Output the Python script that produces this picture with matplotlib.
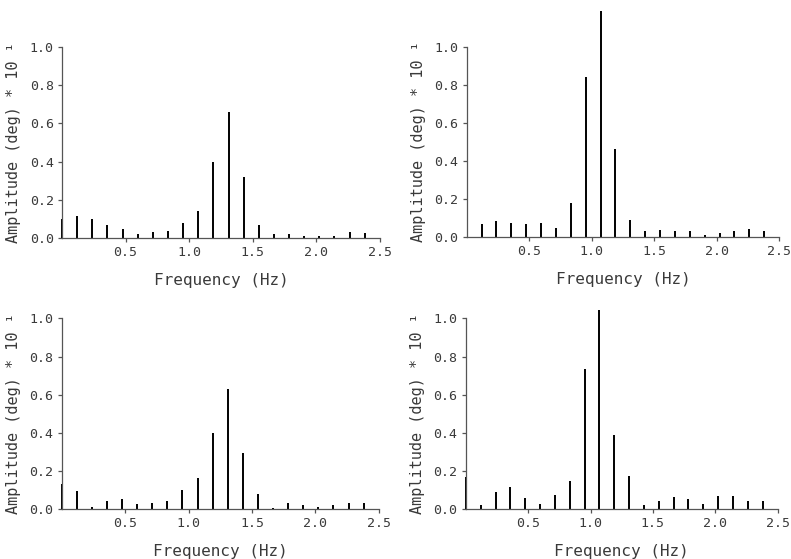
import numpy as np
import matplotlib
matplotlib.use("Agg")
import matplotlib.pyplot as plt

# harmonic index spacing (Hz) read from the spike positions
df = 0.119
k = np.arange(21)
freq = k * df

# amplitudes (deg * 10^1)
amp_tl = [0.10, 0.117, 0.10, 0.07, 0.047, 0.02, 0.03, 0.038, 0.078, 0.144, 0.397,
          0.66, 0.32, 0.07, 0.02, 0.02, 0.01, 0.01, 0.012, 0.03, 0.025]
amp_tr = [0.0, 0.065, 0.082, 0.07, 0.065, 0.07, 0.044, 0.175, 0.842, 1.19, 0.46,
          0.088, 0.03, 0.035, 0.03, 0.03, 0.01, 0.02, 0.03, 0.038, 0.03]
amp_bl = [0.13, 0.096, 0.012, 0.042, 0.054, 0.028, 0.033, 0.044, 0.098, 0.164, 0.397,
          0.63, 0.292, 0.077, 0.005, 0.03, 0.021, 0.012, 0.021, 0.03, 0.03]
amp_br = [0.17, 0.021, 0.087, 0.117, 0.06, 0.025, 0.073, 0.145, 0.733, 1.044, 0.388,
          0.173, 0.021, 0.04, 0.065, 0.054, 0.028, 0.068, 0.068, 0.042, 0.042]

xticks = [0.5, 1.0, 1.5, 2.0, 2.5]
yticks = [0.0, 0.2, 0.4, 0.6, 0.8, 1.0]

plt.rcParams['font.family'] = ['DejaVu Sans Mono']
grey = '#3a3a3a'

fig = plt.figure(figsize=(7.91, 5.59), dpi=100)

# axes boxes in figure fractions [left, bottom, width, height]
boxes = [[0.0784, 0.5742, 0.402, 0.3417],
         [0.590, 0.5766, 0.395, 0.340],
         [0.078, 0.0894, 0.401, 0.341],
         [0.589, 0.0894, 0.394, 0.341]]
series = [amp_tl, amp_tr, amp_bl, amp_br]

for box, amp in zip(boxes, series):
    ax = fig.add_axes(box)
    ax.vlines(freq, 0, amp, colors='black', linewidth=1.4, clip_on=False)
    ax.set_xlim(0, 2.5)
    ax.set_ylim(0, 1.0)
    ax.set_xticks(xticks)
    ax.set_yticks(yticks)
    ax.set_xticklabels(['%.1f' % t for t in xticks])
    ax.set_yticklabels(['%.1f' % t for t in yticks])
    for s in ['top', 'right']:
        ax.spines[s].set_visible(False)
    for s in ['left', 'bottom']:
        ax.spines[s].set_color('#555555')
        ax.spines[s].set_linewidth(0.9)
    ax.tick_params(colors='#555555', labelcolor=grey, labelsize=9.5,
                   length=3, width=0.9, pad=3)
    ax.set_xlabel('Frequency (Hz)', fontsize=11.5, color=grey, labelpad=10)
    ax.set_ylabel('Amplitude (deg) * 10 ¹', fontsize=11, color=grey, labelpad=6)

fig.savefig('out.png', dpi=100)
